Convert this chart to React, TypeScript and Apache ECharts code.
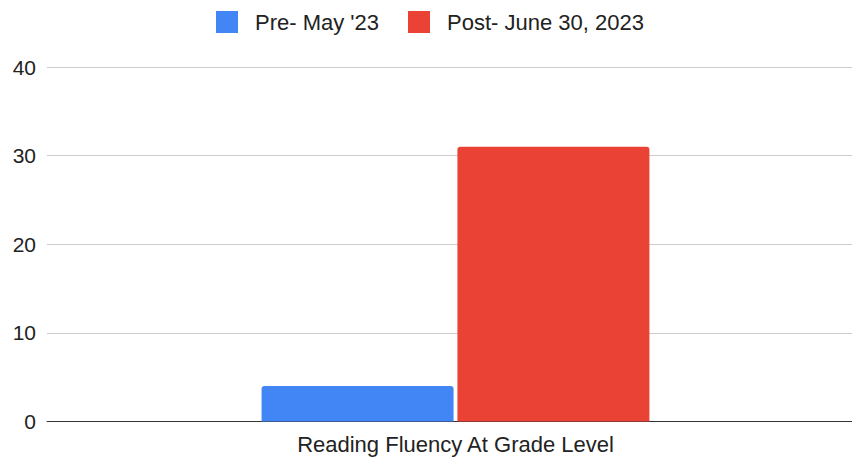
import React, { useEffect, useRef } from "react";
import * as echarts from "echarts";

const categories = ["Reading Fluency At Grade Level"];
const seriesNames = ["Pre- May '23", "Post- June 30, 2023"];
const preValues = [4];
const postValues = [31];
const yTicks = [0, 10, 20, 30, 40];

export default function App() {
  const ref = useRef<HTMLDivElement>(null);
  useEffect(() => {
    if (!ref.current) return;
    const chart = echarts.init(ref.current, null, { renderer: "svg" });
    const font = "'Liberation Sans', Arial, sans-serif";
    chart.setOption({
      animation: false,
      textStyle: { fontFamily: font },
      legend: {
        left: 211,
        top: 6,
        itemWidth: 22,
        itemHeight: 22,
        itemGap: 29,
        icon: "rect",
        itemStyle: { borderRadius: 2 },
        textStyle: { fontSize: 22, color: "#222222", fontFamily: font, padding: [0, 0, 0, 12] },
        data: seriesNames,
      },
      grid: { left: 47, right: -12, top: 67, bottom: 36.5, outerBoundsMode: "none", containLabel: false },
      xAxis: {
        type: "category",
        data: categories,
        axisTick: { show: false },
        axisLine: { lineStyle: { color: "#333333", width: 1 } },
        axisLabel: { fontSize: 22, color: "#222222", margin: 12, fontFamily: font },
      },
      yAxis: {
        type: "value",
        min: yTicks[0],
        max: yTicks[yTicks.length - 1],
        interval: 10,
        axisLine: { show: false },
        axisTick: { show: false },
        splitLine: { lineStyle: { color: "#cccccc", width: 1 } },
        axisLabel: { fontSize: 21, color: "#222222", margin: 11, fontFamily: font },
      },
      series: [
        {
          name: seriesNames[0],
          type: "bar",
          data: preValues,
          barWidth: 192,
          barGap: "2%",
          itemStyle: { color: "#4285F4", borderRadius: [3, 3, 0, 0] },
        },
        {
          name: seriesNames[1],
          type: "bar",
          data: postValues,
          barWidth: 192,
          barGap: "2%",
          itemStyle: { color: "#EA4335", borderRadius: [3, 3, 0, 0] },
        },
      ],
    });
    return () => chart.dispose();
  }, []);
  return (
    <div
      ref={ref}
      style={{ position: "absolute", left: 0, top: 0, width: 852, height: 458, background: "#ffffff" }}
    />
  );
}
